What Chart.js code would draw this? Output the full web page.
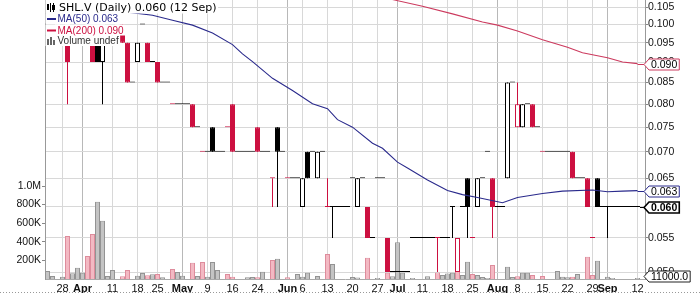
<!DOCTYPE html>
<html>
<head>
<meta charset="utf-8">
<title>SHL.V daily</title>
<script src="https://cdn.jsdelivr.net/npm/chart.js@4.4.1/dist/chart.umd.min.js"></script>
<style>
  html, body { margin: 0; padding: 0; background: #fff; }
  canvas { display: block; }
</style>
</head>
<body>
<canvas id="chart" width="700" height="293"></canvas>
<script>
// trading days on the x axis, the last slot is left empty
const days = [
  'Mar 23','Mar 24','Mar 25','Mar 28','Mar 29','Mar 30','Mar 31','Apr 1','Apr 4','Apr 5',
  'Apr 6','Apr 7','Apr 8','Apr 11','Apr 12','Apr 13','Apr 14','Apr 15','Apr 18','Apr 19',
  'Apr 20','Apr 21','Apr 25','Apr 26','Apr 27','Apr 28','Apr 29','May 2','May 3','May 4',
  'May 5','May 6','May 9','May 10','May 11','May 12','May 13','May 16','May 17','May 18',
  'May 19','May 20','May 24','May 25','May 26','May 27','May 30','May 31','Jun 1','Jun 2',
  'Jun 3','Jun 6','Jun 7','Jun 8','Jun 9','Jun 10','Jun 13','Jun 14','Jun 15','Jun 16',
  'Jun 17','Jun 20','Jun 21','Jun 22','Jun 23','Jun 24','Jun 27','Jun 28','Jun 29','Jun 30',
  'Jul 4','Jul 5','Jul 6','Jul 7','Jul 8','Jul 11','Jul 12','Jul 13','Jul 14','Jul 15',
  'Jul 18','Jul 19','Jul 20','Jul 21','Jul 22','Jul 25','Jul 26','Jul 27','Jul 28','Jul 29',
  'Aug 2','Aug 3','Aug 4','Aug 5','Aug 8','Aug 9','Aug 10','Aug 11','Aug 12','Aug 15',
  'Aug 16','Aug 17','Aug 18','Aug 19','Aug 22','Aug 23','Aug 24','Aug 25','Aug 26','Aug 29',
  'Aug 30','Aug 31','Sep 1','Sep 2','Sep 6','Sep 7','Sep 8','Sep 9','Sep 12','Sep 13'
];

const tickDates = ['Mar 28','Apr 1','Apr 11','Apr 18','Apr 25','May 2','May 9','May 16','May 24',
  'Jun 1','Jun 6','Jun 13','Jun 20','Jun 27','Jul 4','Jul 11','Jul 18','Jul 25',
  'Aug 2','Aug 8','Aug 15','Aug 22','Aug 29','Sep 1','Sep 12'];
const tickText = ['28','Apr','11','18','25','May','9','16','24',
  'Jun','6','13','20','27','Jul','11','18','25',
  'Aug','8','15','22','29','Sep','12'];

const openP = [
  .100,.100,null,.100,.095,.100,.100,.100,.095,.095,
  .095,.090,.100,.100,null,.100,.095,.085,.090,.100,
  .095,.090,.090,.085,.085,.080,.080,.080,.080,.080,
  .075,.070,.070,.075,.070,.070,.075,.080,.070,.070,
  .070,.070,.075,.070,.070,.065,.075,.070,.065,.065,
  .065,.060,.070,.070,.065,.070,.060,.060,.060,.060,
  .060,.065,.060,.065,.060,.055,.065,.065,.055,.050,
  .050,.050,.050,.055,.055,.055,.055,.055,.055,.055,
  .055,.060,.050,.060,.065,.055,.060,.065,.070,.065,
  .060,.060,.065,.085,.075,.075,.080,.080,.075,.070,
  .070,.070,.070,.070,.070,.070,.065,.065,.065,.055,
  .065,.060,.060,.060,.060,.060,.060,.060,.060,null
];
const highP = [
  .100,.100,null,.100,.095,.100,.100,.100,.095,.095,
  .095,.095,.100,.100,null,.100,.095,.085,.095,.100,
  .095,.090,.090,.085,.085,.080,.080,.080,.080,.080,
  .075,.070,.070,.075,.070,.070,.075,.080,.070,.070,
  .070,.070,.075,.070,.070,.065,.075,.070,.065,.065,
  .065,.065,.070,.070,.070,.070,.065,.060,.060,.060,
  .060,.065,.065,.065,.060,.055,.065,.065,.055,.050,
  .050,.050,.050,.055,.055,.055,.055,.055,.055,.055,
  .055,.060,.055,.060,.065,.055,.065,.065,.070,.065,
  .060,.060,.085,.085,.085,.080,.080,.080,.075,.070,
  .070,.070,.070,.070,.070,.070,.065,.065,.065,.055,
  .065,.060,.060,.060,.060,.060,.060,.060,.060,null
];
const lowP = [
  .100,.100,null,.100,.080,.100,.100,.100,.095,.090,
  .090,.080,.100,.100,null,.095,.085,.085,.090,.100,
  .090,.090,.085,.085,.085,.080,.080,.080,.080,.075,
  .075,.070,.070,.070,.070,.070,.075,.070,.070,.070,
  .070,.070,.070,.070,.070,.060,.060,.070,.065,.065,
  .065,.060,.065,.070,.065,.070,.060,.055,.060,.060,
  .060,.065,.060,.065,.055,.055,.065,.065,.050,.050,
  .050,.050,.050,.055,.055,.055,.055,.055,.050,.055,
  .055,.055,.050,.060,.055,.055,.060,.065,.070,.055,
  .060,.060,.065,.085,.075,.075,.080,.075,.075,.070,
  .070,.070,.070,.070,.070,.065,.065,.065,.060,.055,
  .060,.060,.055,.060,.060,.060,.060,.060,.060,null
];
const closeP = [
  .100,.100,null,.100,.090,.100,.100,.100,.095,.090,
  .090,.095,.100,.100,null,.095,.085,.085,.095,.100,
  .090,.090,.085,.085,.085,.080,.080,.080,.080,.075,
  .075,.070,.070,.070,.070,.070,.075,.070,.070,.070,
  .070,.070,.070,.070,.070,.065,.070,.070,.065,.065,
  .065,.065,.065,.070,.070,.070,.060,.060,.060,.060,
  .060,.065,.065,.065,.055,.055,.065,.065,.050,.050,
  .050,.050,.050,.055,.055,.055,.055,.055,.055,.055,
  .055,.060,.055,.060,.060,.055,.065,.065,.070,.060,
  .060,.060,.085,.085,.080,.080,.080,.075,.075,.070,
  .070,.070,.070,.070,.070,.065,.065,.065,.060,.055,
  .060,.060,.060,.060,.060,.060,.060,.060,.060,null
];
const volume = [
  86000,32000,0,25000,462000,61000,122000,68000,247000,484000,
  831000,627000,32000,97000,0,30000,97000,0,35000,65000,
  40000,50000,54000,20000,0,108000,75000,35000,0,175000,
  32000,183000,25000,183000,97000,0,54000,25000,0,0,
  18000,22000,18000,78000,0,204000,218000,0,18000,0,
  54000,25000,68000,0,32000,0,269000,161000,0,0,
  0,22000,15000,0,229000,0,12000,0,68000,30000,
  395000,68000,0,12000,0,0,30000,0,70000,43000,
  60000,68000,115000,43000,186000,54000,43000,22000,12000,150000,
  0,0,132000,22000,30000,68000,68000,43000,0,32000,
  0,0,86000,25000,18000,25000,54000,0,240000,43000,
  197000,0,25000,12000,0,0,0,0,11000,0
];
// 1 = day closed below the previous close (red candle, pink volume)
const downDay = [
  0,0,0,0,1,0,0,0,1,1,
  0,0,0,0,0,1,1,0,0,0,
  1,0,1,0,0,1,0,0,0,1,
  0,1,0,0,0,0,1,1,0,0,
  0,0,1,0,0,1,0,0,1,0,
  0,0,0,0,0,0,1,0,0,0,
  0,0,0,0,1,0,0,0,1,0,
  0,0,0,0,0,0,0,0,1,0,
  0,0,1,0,0,1,0,0,0,1,
  0,0,0,0,1,0,0,1,0,1,
  0,0,0,0,0,1,0,0,1,1,
  0,0,0,0,0,0,0,0,0,0
];

const ma50Days = ['Apr 14','Apr 21','Apr 28','May 4','May 10','May 16','May 18','May 20','May 27',
  'Jun 2','Jun 8','Jun 13','Jun 15','Jun 20','Jun 24','Jun 28','Jul 4','Jul 6','Jul 12',
  'Jul 18','Jul 21','Jul 26','Aug 3','Aug 8','Aug 15','Aug 19','Aug 29','Sep 1','Sep 7','Sep 12'];
const ma50 = [0.1035,0.1026,0.1012,0.0998,0.0976,0.0945,0.0921,0.0901,0.0860,
  0.0831,0.0801,0.0790,0.0766,0.0750,0.0717,0.0707,0.0680,0.0669,0.0647,
  0.0628,0.0621,0.0616,0.0607,0.0616,0.0623,0.0627,0.0629,0.0626,0.0627,0.0628];

const ma200Days = ['Jun 29','Jun 30','Jul 11','Jul 19','Jul 27','Aug 2','Aug 8','Aug 15','Aug 22',
  'Aug 25','Sep 1','Sep 7','Sep 12'];
const ma200 = [0.1082,0.1072,0.1052,0.1030,0.1007,0.0998,0.0982,0.0958,0.0938,
  0.0924,0.0911,0.0900,0.0896];

const priceTicks = [0.050,0.055,0.060,0.065,0.070,0.075,0.080,0.085,0.090,0.095,0.100,0.105];
const volumeTicks = [200000,400000,600000,800000,1000000];

const RED = '#cc1040';
const NAVY = '#2a2a8c';
const MA200_COLOR = '#cc3a5e';
const SANS = '"Liberation Sans", Arial, sans-serif';

const candleColor = i => downDay[i] ? RED : '#000';
const isMonthTick = v => /^[A-Z]/.test(tickText[tickDates.indexOf(days[v])] || '');

let lastIdx = closeP.length - 1;
while (closeP[lastIdx] == null) lastIdx--;

const overlay = {
  id: 'overlay',
  afterDatasetsDraw(chart) {
    const ctx = chart.ctx;
    const rows = [
      { y: 8, text: 'SHL.V (Daily) ' + closeP[lastIdx].toFixed(3) + ' (12 Sep)', color: '#000',
        font: '11px "DejaVu Sans", Verdana, sans-serif', top: 0, bottom: 13.5, x: 59 },
      { y: 19, text: 'MA(50) ' + ma50[ma50.length - 1].toFixed(3), color: NAVY,
        font: '10px ' + SANS, top: 13.5, bottom: 24.5, x: 57.5 },
      { y: 30.5, text: 'MA(200) ' + ma200[ma200.length - 1].toFixed(3), color: RED,
        font: '10px ' + SANS, top: 24.5, bottom: 35.5, x: 57.5 },
      { y: 41, text: 'Volume undef', color: '#333',
        font: '10px ' + SANS, top: 35.5, bottom: 46, x: 57.5 }
    ];
    ctx.save();
    rows.forEach(r => {
      ctx.font = r.font;
      const w = ctx.measureText(r.text).width;
      ctx.fillStyle = '#fff';
      ctx.fillRect(chart.chartArea.left + 0.5, r.top, r.x + w + 1 - chart.chartArea.left, r.bottom - r.top);
      ctx.fillStyle = r.color;
      ctx.textBaseline = 'middle';
      ctx.fillText(r.text, r.x, r.y + 0.5);
    });
    // icons
    ctx.fillStyle = '#000';
    ctx.fillRect(47, 4, 2, 6);
    ctx.fillRect(50, 3, 1, 9);
    ctx.fillRect(52, 5, 3, 5);
    ctx.fillRect(53, 3, 1, 9);
    ctx.lineWidth = 2;
    ctx.strokeStyle = NAVY;
    ctx.beginPath(); ctx.moveTo(47, 19); ctx.lineTo(56, 19); ctx.stroke();
    ctx.strokeStyle = RED;
    ctx.beginPath(); ctx.moveTo(47, 30.5); ctx.lineTo(56, 30.5); ctx.stroke();
    ctx.fillStyle = '#666';
    ctx.fillRect(47, 39, 2, 6);
    ctx.fillRect(50, 37, 2, 8);
    ctx.fillRect(53, 40, 2, 5);
    ctx.restore();
  },
  afterDraw(chart) {
    const ctx = chart.ctx;
    const a = chart.chartArea;
    const yP = chart.scales.y, yV = chart.scales.yVol, x = chart.scales.x;
    const xEnd = x.getPixelForValue(lastIdx);
    const tip = a.right - 1;

    function tag(y, text, stroke, bold, lw, fromX) {
      ctx.save();
      if (fromX != null) {
        ctx.strokeStyle = stroke;
        ctx.lineWidth = 1;
        ctx.beginPath(); ctx.moveTo(fromX, y); ctx.lineTo(tip, y); ctx.stroke();
      }
      ctx.font = (bold ? 'bold ' : '') + '10.5px ' + SANS;
      const w = ctx.measureText(text).width + 4;
      const h = 11, x1 = tip + 5;
      ctx.beginPath();
      ctx.moveTo(tip, y);
      ctx.lineTo(x1, y - h / 2);
      ctx.lineTo(x1 + w, y - h / 2);
      ctx.lineTo(x1 + w, y + h / 2);
      ctx.lineTo(x1, y + h / 2);
      ctx.closePath();
      ctx.fillStyle = '#fff';
      ctx.fill();
      ctx.lineWidth = lw;
      ctx.strokeStyle = stroke;
      ctx.stroke();
      ctx.fillStyle = '#000';
      ctx.textBaseline = 'middle';
      ctx.fillText(text, x1 + 2, y + 0.5);
      ctx.restore();
    }

    const m200 = ma200[ma200.length - 1], m50 = ma50[ma50.length - 1];
    tag(Math.round(yP.getPixelForValue(m200)) + 0.5, m200.toFixed(3), MA200_COLOR, false, 1, xEnd);
    tag(Math.round(yP.getPixelForValue(m50)) + 0.5, m50.toFixed(3), NAVY, false, 1, xEnd);
    tag(Math.round(yP.getPixelForValue(closeP[lastIdx])) + 0.5, closeP[lastIdx].toFixed(3), '#000', true, 1.6, xEnd + 2.5);
    const vy = Math.min(yV.getPixelForValue(volume[lastIdx]), a.bottom - 3);
    tag(Math.round(vy) + 0.5, volume[lastIdx].toFixed(1), '#222', false, 1, null);

    // dotted frame line at the bottom of the picture
    ctx.save();
    ctx.strokeStyle = '#999';
    ctx.setLineDash([1, 2]);
    ctx.beginPath(); ctx.moveTo(0, 292.5); ctx.lineTo(700, 292.5); ctx.stroke();
    ctx.restore();
  }
};

new Chart(document.getElementById('chart'), {
  type: 'bar',
  data: {
    labels: days,
    datasets: [
      {
        type: 'line', label: 'MA(50)', yAxisID: 'y',
        data: ma50Days.map((d, i) => ({ x: d, y: ma50[i] })),
        borderColor: NAVY, borderWidth: 1.1, pointRadius: 0, tension: 0, spanGaps: true, order: 0
      },
      {
        type: 'line', label: 'MA(200)', yAxisID: 'y',
        data: ma200Days.map((d, i) => ({ x: d, y: ma200[i] })),
        borderColor: MA200_COLOR, borderWidth: 1.1, pointRadius: 0, tension: 0, spanGaps: true, order: 0
      },
      {
        label: 'body', yAxisID: 'y',
        data: days.map((d, i) => closeP[i] == null ? null : [openP[i], closeP[i]]),
        backgroundColor: days.map((d, i) => closeP[i] > openP[i] ? '#fff' : candleColor(i)),
        borderColor: days.map((d, i) => candleColor(i)),
        borderWidth: 1, borderSkipped: false, minBarLength: 1, inflateAmount: 0,
        barPercentage: 1, categoryPercentage: 1, grouped: false, order: 1
      },
      {
        label: 'wick', yAxisID: 'y',
        data: days.map((d, i) => (lowP[i] == null || lowP[i] === highP[i]) ? null : [lowP[i], highP[i]]),
        backgroundColor: days.map((d, i) => candleColor(i)),
        barThickness: 1, inflateAmount: 0, grouped: false, order: 2
      },
      {
        label: 'volume', yAxisID: 'yVol',
        data: volume,
        backgroundColor: days.map((d, i) => downDay[i] ? '#f3b9c3' : '#c4c4c4'),
        borderColor: days.map((d, i) => downDay[i] ? '#de8c9c' : '#939393'),
        borderWidth: 1, inflateAmount: 0,
        barPercentage: 1, categoryPercentage: 1, grouped: false, order: 3
      }
    ]
  },
  options: {
    responsive: false,
    animation: false,
    devicePixelRatio: 1,
    layout: { padding: 0 },
    plugins: { legend: { display: false }, tooltip: { enabled: false } },
    scales: {
      x: {
        offset: true,
        grid: {
          offset: false, drawTicks: false,
          color: ctx => isMonthTick(ctx.tick ? ctx.tick.value : -1) ? '#b8b8b8' : '#d8d8d8'
        },
        border: { color: '#aaa' },
        ticks: {
          autoSkip: false, maxRotation: 0, minRotation: 0, padding: 3, color: '#111',
          font: ctx => ({ family: SANS, size: 11, weight: isMonthTick(ctx.tick ? ctx.tick.value : -1) ? 'bold' : 'normal' }),
          callback: v => tickText[tickDates.indexOf(days[v])]
        },
        afterBuildTicks: s => { s.ticks = s.ticks.filter(t => tickDates.includes(days[t.value])); },
        afterFit: s => { s.height = 14; s.paddingLeft = 0; s.paddingRight = 0; }
      },
      y: {
        type: 'logarithmic', position: 'right',
        min: 0.04903, max: 0.10708,
        grid: { color: '#d8d8d8', tickColor: '#888', tickLength: 3 },
        border: { color: '#999' },
        ticks: { padding: 0, color: '#111', font: { family: SANS, size: 10.5 }, callback: v => Number(v).toFixed(3) },
        afterBuildTicks: s => { s.ticks = priceTicks.map(v => ({ value: v })); },
        afterFit: s => { s.width = 55; s.paddingTop = 0; s.paddingBottom = 0; }
      },
      yVol: {
        type: 'linear', position: 'left',
        min: 0, max: 3000000,
        grid: { drawOnChartArea: false, tickColor: '#888', tickLength: 3 },
        border: { color: '#999' },
        ticks: {
          padding: 1, color: '#111', font: { family: SANS, size: 10.5 },
          callback: v => v >= 1000000 ? (v / 1000000).toFixed(1) + 'M' : (v / 1000) + 'K'
        },
        afterBuildTicks: s => { s.ticks = volumeTicks.map(v => ({ value: v })); },
        afterFit: s => { s.width = 45; s.paddingTop = 0; s.paddingBottom = 0; }
      }
    }
  },
  plugins: [overlay]
});
</script>
</body>
</html>
